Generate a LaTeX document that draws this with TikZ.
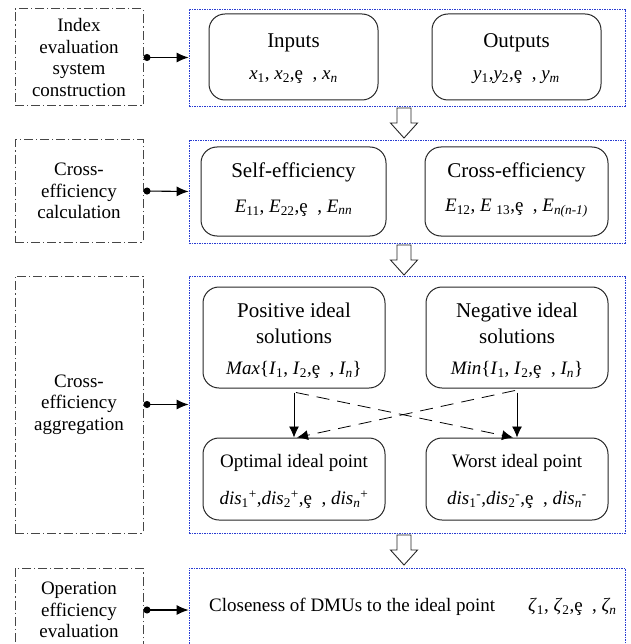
\documentclass[tikz,border=0pt]{standalone}
\usepackage{fontspec}
\setmainfont{Liberation Serif}
\usetikzlibrary{arrows.meta}
\definecolor{bluedot}{RGB}{40,60,210}
\definecolor{dgray}{RGB}{70,70,70}
\tikzset{
 leftbox/.style={draw=dgray, line width=1pt, dash pattern=on 9pt off 3pt on 1.2pt off 3pt, minimum width=128pt, align=center, font=\fontsize{19}{21.7}\selectfont, inner sep=0pt},
 bluebox/.style={draw=bluedot, line width=0.8pt, dash pattern=on 1.5pt off 1pt, minimum width=436pt, inner sep=0pt},
 rbox/.style={draw=black!85, line width=1pt, rounded corners=16pt, inner sep=0pt},
 title/.style={font=\fontsize{21}{26}\selectfont, align=center, inner sep=0pt},
 stitle/.style={font=\fontsize{19}{22}\selectfont, align=center, inner sep=0pt},
 formula/.style={font=\fontsize{19}{22}\selectfont, inner sep=0pt},
 conn/.style={line width=1.1pt, {Circle[length=7pt]}-{Latex[length=12pt,width=10pt]}},
 hollow/.style={draw=black!85, line width=0.9pt, fill=white},
 flow/.style={line width=0.8pt, -{Latex[length=11pt,width=10pt]}},
 dflow/.style={flow, dash pattern=on 13pt off 8pt},
}
\newcommand{\elg}{ȩ}
\begin{document}
\begin{tikzpicture}[x=1pt,y=-1pt]
\useasboundingbox (0,0) rectangle (630,644);
\clip (0,0) rectangle (630,644);
% row 1
\node[leftbox, minimum height=97pt] (idx) at (79,57.5) {Index\\evaluation\\system\\construction};
\node[bluebox, minimum height=97pt] (b1) at (407,57.5) {};
\node[rbox, minimum width=169pt, minimum height=86pt] (inp) at (293.5,57) {};
\node[rbox, minimum width=169pt, minimum height=86pt] (outp) at (516.5,57) {};
\node[title] (inpT) at (293.5,43) {Inputs};
\node[formula] (inpF) at (293.5,77) {\textit{x}\textsubscript{1}, \textit{x}\textsubscript{2},\elg\ \ , \textit{x\textsubscript{n}}};
\node[title] (outT) at (516.5,43) {Outputs};
\node[formula] (outF) at (516.5,77) {\textit{y}\textsubscript{1},\textit{y}\textsubscript{2},\elg\ \ , \textit{y\textsubscript{m}}};
\draw[conn] (idx.east) -- (b1.west);
\draw[hollow] (397,108) -- (411,108) -- (411,123) -- (417.5,123) -- (404,138) -- (390.5,123) -- (397,123) -- cycle;
% row 2
\node[leftbox, minimum height=102pt] (cec) at (79,191) {Cross-\\efficiency\\calculation};
\node[bluebox, minimum height=103pt] (b2) at (407,191.5) {};
\node[rbox, minimum width=185pt, minimum height=89pt] (self) at (293.5,191.5) {};
\node[rbox, minimum width=183pt, minimum height=89pt] (cross) at (516.5,191.5) {};
\node[title] (selfT) at (293.5,172) {Self-efficiency};
\node[formula] (selfF) at (293.5,208) {\textit{E}\textsubscript{11}, \textit{E}\textsubscript{22},\elg\ \ , \textit{E\textsubscript{nn}}};
\node[title] (crossT) at (516.5,172) {Cross-efficiency};
\node[formula] (crossF) at (516.5,208) {\textit{E}\textsubscript{12}, \textit{E} \textsubscript{13},\elg\ \ , \textit{E\textsubscript{n(n-1)}}};
\draw[conn] (cec.east) -- (b2.west);
\draw[hollow] (397,245) -- (411,245) -- (411,260) -- (417.5,260) -- (404,275) -- (390.5,260) -- (397,260) -- cycle;
% row 3
\node[leftbox, minimum height=257pt] (cea) at (79,404.5) {Cross-\\efficiency\\aggregation};
\node[bluebox, minimum height=257pt] (b3) at (407,404.5) {};
\node[rbox, minimum width=182pt, minimum height=101pt] (pos) at (294,337.5) {};
\node[rbox, minimum width=182pt, minimum height=101pt] (neg) at (517,337.5) {};
\node[rbox, minimum width=182pt, minimum height=82pt] (opt) at (294,479) {};
\node[rbox, minimum width=182pt, minimum height=82pt] (worst) at (517,479) {};
\node[title] (posT) at (294,323) {Positive ideal\\solutions};
\node[formula] (posF) at (294,370) {\textit{Max}\{\textit{I}\textsubscript{1}, \textit{I}\textsubscript{2},\elg\ \ , \textit{I\textsubscript{n}}\}};
\node[title] (negT) at (517,323) {Negative ideal\\solutions};
\node[formula] (negF) at (517,370) {\textit{Min}\{\textit{I}\textsubscript{1}, \textit{I}\textsubscript{2},\elg\ \ , \textit{I\textsubscript{n}}\}};
\node[stitle] (optT) at (294,463) {Optimal ideal point};
\node[formula] (optF) at (294,500) {\textit{dis}\textsubscript{1}\textsuperscript{+},\textit{dis}\textsubscript{2}\textsuperscript{+},\elg\ \ , \textit{dis\textsubscript{n}}\textsuperscript{+}};
\node[stitle] (worstT) at (517,463) {Worst ideal point};
\node[formula] (worstF) at (517,500) {\textit{dis}\textsubscript{1}\textsuperscript{-},\textit{dis}\textsubscript{2}\textsuperscript{-},\elg\ \ , \textit{dis\textsubscript{n}}\textsuperscript{-}};
\draw[conn] (cea.east) -- (b3.west);
\draw[flow] ([yshift=-4pt]pos.south) -- (opt.north);
\draw[flow] ([yshift=-4pt]neg.south) -- (worst.north);
\draw[dflow] ([xshift=2pt,yshift=-4pt]pos.south) -- ([xshift=-4pt]worst.north);
\draw[dflow] ([xshift=-2pt,yshift=-2pt]neg.south) -- ([xshift=3pt]opt.north);
\draw[hollow] (397,535) -- (411,535) -- (411,550) -- (417.5,550) -- (404,565) -- (390.5,550) -- (397,550) -- cycle;
% row 4
\node[leftbox, minimum height=84pt] (oee) at (79,610) {Operation\\efficiency\\evaluation};
\node[bluebox, minimum height=84pt] (b4) at (407,610) {};
\node[formula, anchor=west] (clos) at (209,607) {Closeness of DMUs to the ideal point};
\node[formula, anchor=west] (zeta) at (528,607) {\textit{ζ}\textsubscript{1}, \textit{ζ}\textsubscript{2},\elg\ \ , \textit{ζ\textsubscript{n}}};
\draw[conn] (oee.east) -- (b4.west);
\end{tikzpicture}
\end{document}
